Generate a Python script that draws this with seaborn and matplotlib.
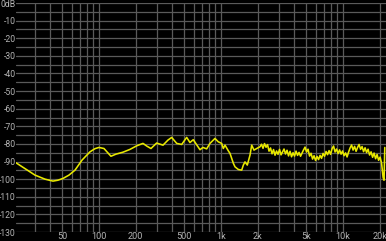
import matplotlib
matplotlib.use("Agg")
import matplotlib.pyplot as plt
import seaborn as sns
import pandas as pd

# --- data -------------------------------------------------------------
low_freq = [20.9, 24.7, 29.9, 36.1, 42.0, 46.1, 50.7, 56.8, 63.6, 72.6,
            84.4, 92.7, 100, 109.9, 125.4, 137.8, 157.3, 179.6, 204.9, 229.5,
            247.4, 266.9, 297, 334.9, 368, 394.6, 433.6, 476.4, 523.5, 556.9,
            592.8, 635.6, 672.9, 711.5, 763.1, 812.3, 892.8, 950, 1013, 1045,
            1079, 1148, 1186, 1224, 1263, 1303, 1386, 1478, 1525, 1573, 1643,
            1729, 1786, 1864, 1963]
low_db = [-90.7, -94.0, -97.7, -100.0, -101.1, -100.6, -99.6, -97.7, -94.9, -89.2,
          -84.5, -82.7, -82.0, -82.6, -87.0, -85.8, -84.7, -83.1, -81.0, -79.7,
          -81.3, -82.6, -79.5, -80.7, -77.8, -76.3, -79.7, -80.3, -76.3, -79.2,
          -77.6, -80.7, -83.3, -82.0, -82.8, -79.7, -76.9, -78.8, -79.7, -82.6,
          -80.7, -83.9, -85.4, -88.2, -91.0, -93.0, -94.5, -94.9, -92.0, -90.2,
          -92.0, -86.4, -80.7, -83.5, -82.6]

high_freq = [2089, 2149, 2211, 2274, 2340, 2407, 2476, 2547, 2620, 2696,
             2773, 2853, 2935, 3019, 3106, 3195, 3287, 3381, 3478, 3578,
             3681, 3787, 3896, 4008, 4123, 4241, 4363, 4488, 4617, 4750,
             4886, 5027, 5171, 5320, 5472, 5630, 5791, 5958, 6129, 6305,
             6486, 6672, 6864, 7061, 7264, 7473, 7688, 7909, 8136, 8370,
             8610, 8858, 9112, 9374, 9643, 9920, 10205, 10498, 10800, 11110,
             11429, 11758, 12095, 12443, 12800, 13168, 13546, 13935, 14335, 14747,
             15170, 15606, 16054, 16515, 16990, 17478, 17980, 18496, 19027, 19574,
             20136, 20714, 21309, 21700, 22000]
high_db = [-81.6, -80.2, -82.5, -79.8, -81.9, -80.4, -84.1, -82.3, -85.6, -83.2,
           -86.4, -84.0, -85.9, -83.1, -86.2, -84.5, -82.9, -85.7, -83.6, -86.8,
           -84.2, -87.3, -85.0, -86.9, -84.1, -86.5, -84.8, -87.0, -85.2, -83.4,
           -81.8, -84.6, -83.0, -86.9, -85.3, -88.6, -86.7, -89.4, -87.1, -88.9,
           -86.5, -88.2, -85.4, -87.0, -84.3, -86.1, -83.8, -85.9, -82.7, -81.2,
           -84.6, -82.9, -85.5, -83.4, -85.8, -84.0, -86.7, -85.1, -87.4, -84.6,
           -82.3, -80.6, -83.5, -81.4, -84.2, -82.0, -80.3, -83.1, -81.5, -84.4,
           -82.2, -84.9, -83.0, -86.3, -84.5, -87.6, -85.2, -88.4, -86.0, -89.3,
           -87.5, -91.0, -99.0, -100.6, -82.0]

x_tick_vals = [50, 100, 200, 500, 1000, 2000, 5000, 10000, 20000]
x_tick_labels = ["50", "100", "200", "500", "1k", "2k", "5k", "10k", "20k"]
x_grid_vals = [30, 40, 50, 60, 70, 80, 90, 100, 200, 300, 400, 500, 600, 700,
               800, 900, 1000, 2000, 3000, 4000, 5000, 6000, 7000, 8000, 9000,
               10000, 20000]
y_tick_vals = list(range(0, -131, -10))
y_tick_labels = ["0dB"] + [str(v) for v in y_tick_vals[1:]]
y_grid_vals = list(range(0, -131, -5))

df = pd.DataFrame({"freq": low_freq + high_freq, "db": low_db + high_db})

# --- figure -----------------------------------------------------------
sns.set_style("dark")
plt.rcParams["font.family"] = ["Roboto", "DejaVu Sans"]

fig = plt.figure(figsize=(3.86, 2.41), dpi=100, facecolor="black")
ax = fig.add_axes([16 / 386, 9 / 241, 1 - 16 / 386, 229 / 241])
ax.set_facecolor("black")
for s in ax.spines.values():
    s.set_visible(False)

ax.set_xscale("log")
ax.set_xlim(20.9, 22510)
ax.set_ylim(-130, 0)

grid_color = "#5a5a5a"
for v in x_grid_vals:
    ax.axvline(v, color=grid_color, lw=0.9, zorder=0)
for v in y_grid_vals:
    ax.axhline(v, color=grid_color, lw=0.9, zorder=0)

sns.lineplot(data=df, x="freq", y="db", ax=ax, color="#e8e800", lw=1.15,
             estimator=None, sort=False, zorder=3)

ax.set_xticks(x_tick_vals)
ax.set_xticklabels(x_tick_labels)
ax.xaxis.set_minor_locator(matplotlib.ticker.NullLocator())
ax.set_yticks(y_tick_vals)
ax.set_yticklabels(y_tick_labels)
ax.tick_params(axis="x", length=0, labelsize=6.6, colors="#b4b4b4", pad=0.3)
ax.tick_params(axis="y", length=0, labelsize=6.2, colors="#b4b4b4", pad=0.2)
ax.grid(False)
ax.set_xlabel("")
ax.set_ylabel("")

fig.savefig("out.png", dpi=100, facecolor="black")
